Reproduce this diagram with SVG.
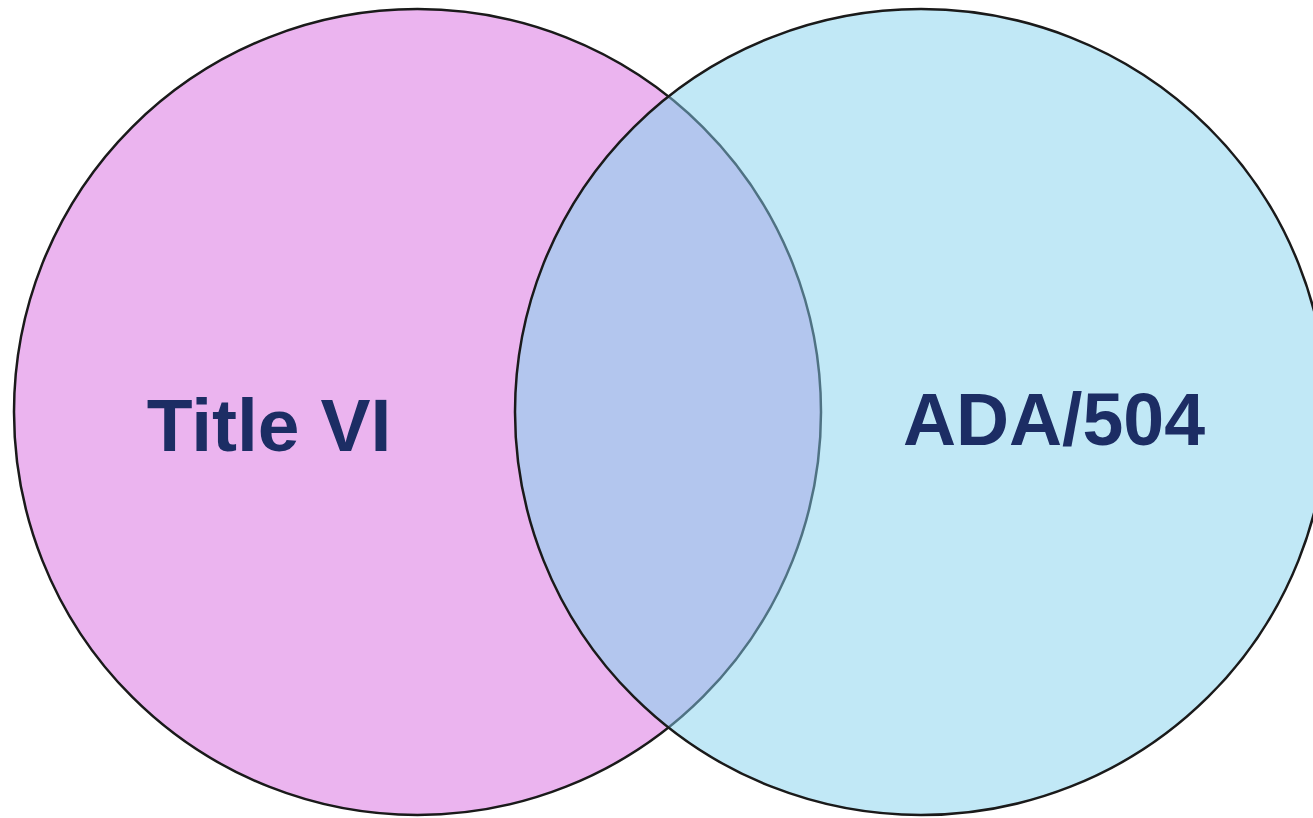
<svg xmlns="http://www.w3.org/2000/svg" width="1313" height="818" viewBox="0 0 1313 818">
  <style>
    .label { font-family: "Liberation Sans", Arial, sans-serif; font-weight: bold; font-size: 75px; fill: #1C2D64; text-anchor: middle; }
    .outline { fill: none; stroke: #1a1a1a; stroke-width: 2.5; }
  </style>
  <defs>
    <clipPath id="clipLeft">
      <ellipse cx="417.5" cy="412" rx="403.5" ry="403"/>
    </clipPath>
    <clipPath id="clipRight">
      <ellipse cx="921" cy="412" rx="406" ry="403"/>
    </clipPath>
  </defs>
  <rect width="1313" height="818" fill="#ffffff"/>
  <g id="set-title-vi">
    <ellipse cx="417.5" cy="412" rx="403.5" ry="403" class="outline" style="fill:#EBB4EF"/>
  </g>
  <g id="set-ada-504">
    <ellipse cx="921" cy="412" rx="406" ry="403" fill="#C1E8F6"/>
  </g>
  <g id="overlap">
    <ellipse cx="921" cy="412" rx="406" ry="403" fill="#B3C6EE" clip-path="url(#clipLeft)"/>
    <ellipse cx="417.5" cy="412" rx="403.5" ry="403" fill="none" stroke="#4F7283" stroke-width="2.5" clip-path="url(#clipRight)"/>
  </g>
  <g id="outline-ada-504">
    <ellipse cx="921" cy="412" rx="406" ry="403" class="outline"/>
  </g>
  <g id="labels">
    <text class="label" x="269" y="451">Title VI</text>
    <text class="label" x="1054" y="445" textLength="302" lengthAdjust="spacingAndGlyphs">ADA/504</text>
  </g>
</svg>
